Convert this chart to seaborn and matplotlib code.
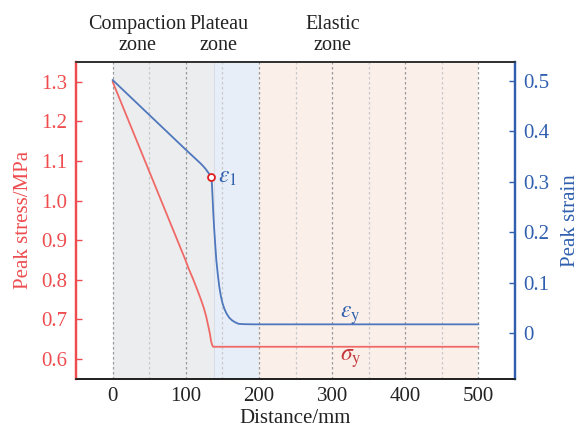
import matplotlib
matplotlib.use("Agg")
import matplotlib.pyplot as plt
import seaborn as sns
import pandas as pd

# ---- data ----
stress_dist = [0, 50, 100, 104, 110, 115.5, 120, 124.5, 128, 131.3, 133.2, 134.6, 136, 137.3, 200, 300, 400, 500]
stress_val = [1.300, 1.074, 0.848, 0.828, 0.802, 0.776, 0.754, 0.730, 0.707, 0.679, 0.662, 0.645, 0.636, 0.631,
              0.631, 0.631, 0.631, 0.631]

strain_dist = [0, 50, 100, 120, 124, 127, 130, 132, 133.5, 135, 135.8, 136.4, 137.5, 138.7, 140.2, 141.8,
               143.8, 145.9, 148, 150.4, 153, 155.9, 159.5, 163.2, 167.5, 172.2, 180, 195, 300, 400, 500]
strain_val = [0.502, 0.433, 0.364, 0.337, 0.331, 0.326, 0.320, 0.316, 0.313, 0.309, 0.295, 0.277, 0.243,
              0.211, 0.178, 0.145, 0.117, 0.092, 0.074, 0.059, 0.048, 0.039, 0.031, 0.026, 0.022, 0.019,
              0.0183, 0.018, 0.018, 0.018, 0.018]

eps1_point = (135, 0.309)

zone_names = ["Compaction\nzone", "Plateau\nzone", "Elastic\nzone"]
zone_bounds = [(0, 138), (138, 200), (200, 500)]
zone_label_x = [34, 145, 301]

x_ticks = [0, 100, 200, 300, 400, 500]
minor_lines = [50, 150, 250, 350, 450]
left_ticks = [0.6, 0.7, 0.8, 0.9, 1.0, 1.1, 1.2, 1.3]
left_ticklabels = ["0.6", "0.7", "0.8", "0.9", "1.0", "1.1", "1.2", "1.3"]
right_ticks = [0, 0.1, 0.2, 0.3, 0.4, 0.5]
right_ticklabels = ["0", "0.1", "0.2", "0.3", "0.4", "0.5"]

# ---- style ----
sns.set_style("white")
plt.rcParams['font.family'] = ['Liberation Serif', 'DejaVu Serif']
plt.rcParams['mathtext.fontset'] = 'stix'

RED = '#ee4c4f'
RED_LINE = '#ef6a67'
RED_DARK = '#c4383b'
BLUE = '#2f5fae'
BLUE_LINE = '#4f77bd'
zone_colors = ['#ecedef', '#e8eef7', '#fbefea']

fig = plt.figure(figsize=(5.8, 4.32), dpi=100)
ax = fig.add_axes([0.131, 0.123, 0.757, 0.734])
ax2 = ax.twinx()

XMIN, XMAX = -50, 550
YMIN, YMAX = 0.55, 1.35
Y2MIN, Y2MAX = -0.09, 0.538

# zone shading
for (a, b), c in zip(zone_bounds, zone_colors):
    ax.axvspan(a, b, color=c, lw=0, zorder=0)
ax.axvline(138, color='#d8dee8', lw=0.8, zorder=0.5)
for xv in x_ticks:
    ax.axvline(xv, color='#9a9a9a', lw=0.9, ls=(0, (2, 2)), zorder=0.6)
for xv in minor_lines:
    ax.axvline(xv, color='#c9c9c9', lw=0.9, ls=(0, (2, 2)), zorder=0.6)

df_s = pd.DataFrame({'Distance': stress_dist, 'Stress': stress_val})
df_e = pd.DataFrame({'Distance': strain_dist, 'Strain': strain_val})

sns.lineplot(data=df_s, x='Distance', y='Stress', ax=ax, color=RED_LINE, lw=1.3, zorder=3)
sns.lineplot(data=df_e, x='Distance', y='Strain', ax=ax2, color=BLUE_LINE, lw=1.3, zorder=3)
ax2.plot([eps1_point[0]], [eps1_point[1]], 'o', ms=5, mfc='white', mec='#e02020', mew=1.3, zorder=5)

ax.set_xlim(XMIN, XMAX)
ax.set_ylim(YMIN, YMAX)
ax2.set_ylim(Y2MIN, Y2MAX)

ax.set_xticks(x_ticks)
ax.set_xticklabels([str(v) for v in x_ticks], fontsize=15, color='#222222')
ax.set_yticks(left_ticks)
ax.set_yticklabels(left_ticklabels, fontsize=15, color=RED)
ax2.set_yticks(right_ticks)
ax2.set_yticklabels(right_ticklabels, fontsize=15, color=BLUE)

ax.tick_params(axis='x', direction='in', length=4, width=1, color='#222222', pad=6)
ax.tick_params(axis='y', direction='in', length=4, width=1, color=RED, pad=6)
ax2.tick_params(axis='y', direction='in', length=4, width=1, color=BLUE, pad=6)

ax.set_xlabel('Distance/mm', fontsize=15, color='#222222', labelpad=2)
ax.set_ylabel('Peak stress/MPa', fontsize=15, color=RED, labelpad=6)
ax2.set_ylabel('Peak strain', fontsize=15, color=BLUE, labelpad=8)

for a in (ax, ax2):
    a.spines['top'].set_color('#333333')
    a.spines['bottom'].set_color('#222222')
    a.spines['left'].set_color(RED)
    a.spines['right'].set_color(BLUE)
    for s in a.spines.values():
        s.set_linewidth(1.3)
    a.spines['left'].set_linewidth(1.6)
    a.spines['right'].set_linewidth(1.6)
ax.set_zorder(ax2.get_zorder() - 1)
ax2.patch.set_visible(False)

# annotations
ax2.text(144, 0.308, r'$\varepsilon_1$', fontsize=17, color=BLUE, va='center', ha='left')
ax2.text(325, 0.035, r'$\varepsilon_{\mathrm{y}}$', fontsize=17, color=BLUE, va='center', ha='center')
ax.text(325, 0.601, r'$\sigma_{\mathrm{y}}$', fontsize=17, color=RED_DARK, va='center', ha='center')

for name, xl in zip(zone_names, zone_label_x):
    ax.text(xl, 1.368, name, fontsize=14.5, color='#222222', ha='center', va='bottom',
            linespacing=1.15)

fig.savefig('out.png', dpi=100)
